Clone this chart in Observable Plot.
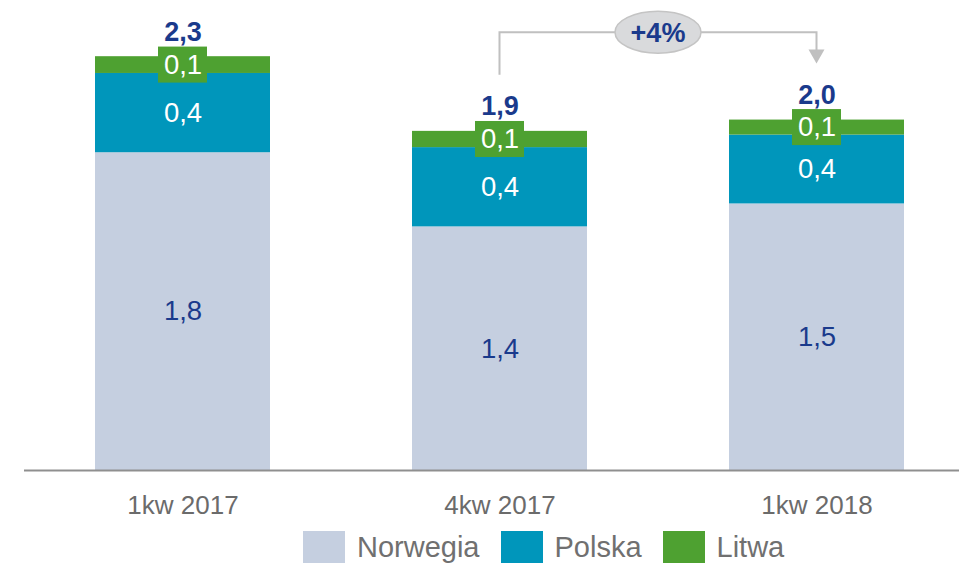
<!DOCTYPE html>
<html>
<head>
<meta charset="utf-8">
<script src="https://cdn.jsdelivr.net/npm/d3@7"></script>
<script src="https://cdn.jsdelivr.net/npm/@observablehq/plot@0.6"></script>
<style>
  html, body { margin: 0; padding: 0; background: #fff; }
  body { width: 959px; height: 564px; overflow: hidden; font-family: "Liberation Sans", Arial, sans-serif; }
  #legend { display: flex; align-items: center; padding-left: 303px; margin-top: 7px; height: 32px; }
  .item { display: flex; align-items: center; margin-right: 21px; }
  .sw { width: 42px; height: 32px; margin-right: 12px; }
  .lab { font-size: 29px; color: #707070; line-height: 32px; }
</style>
</head>
<body>
<div id="chart"></div>
<div id="legend"></div>
<script>
// ---- data ----
const categories = ["1kw 2017", "4kw 2017", "1kw 2018"];
const series = ["Norwegia", "Polska", "Litwa"];
const norwegia = [1.80, 1.38, 1.51];
const polska   = [0.449, 0.449, 0.39];
const litwa    = [0.095, 0.092, 0.085];
const seriesColors = ["#c5cfe0", "#0096bb", "#4ea131"];
const annFrom = "4kw 2017", annTo = "1kw 2018", annLabel = "+4%", annLevel = 2.48;

// ---- derived tables ----
const valuesBySeries = {Norwegia: norwegia, Polska: polska, Litwa: litwa};
const rows = [];
series.forEach(s => categories.forEach((c, i) => rows.push({cat: c, series: s, value: valuesBySeries[s][i]})));
const totals = categories.map((c, i) => ({cat: c, total: norwegia[i] + polska[i] + litwa[i]}));
const litwaBoxes = categories.map((c, i) => ({cat: c, mid: norwegia[i] + polska[i] + litwa[i] / 2}));
const fmt = v => d3.format(".1f")(v).replace(".", ",");
const navy = "#1a3a8c";

function annotation(index, scales) {
  const x = scales.x, y = scales.y;
  const bw = x.bandwidth ? x.bandwidth() : 0;
  const x1 = x(annFrom) + bw / 2, x2 = x(annTo) + bw / 2;
  const tFrom = totals.find(d => d.cat === annFrom).total;
  const tTo = totals.find(d => d.cat === annTo).total;
  const gap = 56;
  const yS = y(tFrom) - gap, yE = y(tTo) - gap, yL = y(annLevel);
  const g = d3.create("svg:g");
  g.append("path")
    .attr("d", `M${x1},${yS}V${yL}H${x2}V${yE - 13}`)
    .attr("fill", "none").attr("stroke", "#c0c0c0").attr("stroke-width", 2);
  g.append("path")
    .attr("d", `M${x2 - 8},${yE - 14}L${x2 + 8},${yE - 14}L${x2},${yE}Z`)
    .attr("fill", "#c0c0c0");
  const xm = (x1 + x2) / 2;
  g.append("ellipse").attr("cx", xm).attr("cy", yL).attr("rx", 43).attr("ry", 21)
    .attr("fill", "#d9dadc").attr("stroke", "#c4c4c4").attr("stroke-width", 1.5);
  g.append("text").attr("x", xm).attr("y", yL).attr("dy", "0.36em")
    .attr("text-anchor", "middle").attr("font-size", 27).attr("font-weight", "bold")
    .attr("fill", navy).text(annLabel);
  return g.node();
}

const chart = Plot.plot({
  width: 959,
  height: 524,
  marginTop: 11,
  marginBottom: 54,
  marginLeft: 24,
  marginRight: 0,
  style: {fontFamily: "'Liberation Sans', Arial, sans-serif", background: "transparent", overflow: "visible"},
  x: {domain: categories, range: [23, 977], paddingInner: 0.4465, paddingOuter: 0.2233, axis: null},
  y: {domain: [0, 2.6], axis: null},
  color: {domain: series, range: seriesColors},
  marks: [
    Plot.barY(rows, {x: "cat", y: "value", fill: "series", order: series}),
    Plot.ruleY([0], {stroke: "#8f8f8f", strokeWidth: 2}),
    Plot.rect(litwaBoxes, {x: "cat", y1: d => d.mid - 0.102, y2: d => d.mid + 0.102, fill: seriesColors[2], insetLeft: 63, insetRight: 63}),
    Plot.text(rows, Plot.stackY({x: "cat", y: "value", z: "series", order: series,
      text: d => d.series === "Norwegia" ? fmt(d.value) : null, fill: navy, fontSize: 27.5})),
    Plot.text(rows, Plot.stackY({x: "cat", y: "value", z: "series", order: series,
      text: d => d.series !== "Norwegia" ? fmt(d.value) : null, fill: "white", fontSize: 27.5})),
    Plot.text(totals, {x: "cat", y: "total", text: d => fmt(d.total), dy: -16, lineAnchor: "bottom",
      fill: navy, fontSize: 27, fontWeight: "bold"}),
    Plot.text(categories, {x: d => d, frameAnchor: "bottom", lineAnchor: "top", dy: 25,
      fill: "#6b6b6b", fontSize: 26}),
    annotation
  ]
});
document.getElementById("chart").appendChild(chart);

const legend = document.getElementById("legend");
series.forEach((s, i) => {
  const it = document.createElement("div"); it.className = "item";
  const sw = document.createElement("div"); sw.className = "sw"; sw.style.background = seriesColors[i];
  const lb = document.createElement("span"); lb.className = "lab"; lb.textContent = s;
  it.appendChild(sw); it.appendChild(lb); legend.appendChild(it);
});
</script>
</body>
</html>
